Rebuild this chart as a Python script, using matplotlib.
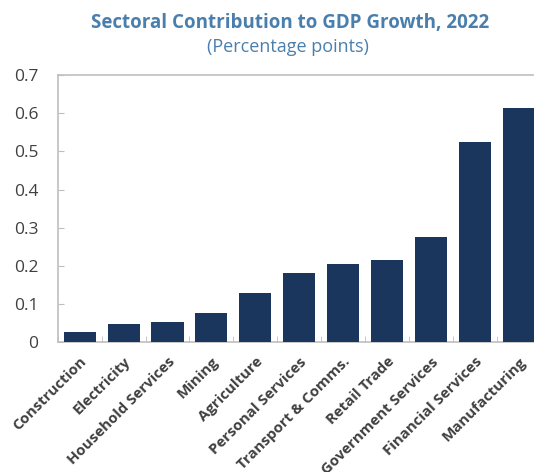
import matplotlib.pyplot as plt
import numpy as np

sectors = ['Construction', 'Electricity', 'Household Services', 'Mining', 'Agriculture',
           'Personal Services', 'Transport & Comms.', 'Retail Trade', 'Government Services',
           'Financial Services', 'Manufacturing']
contrib = [0.026, 0.047, 0.052, 0.076, 0.128, 0.181, 0.205, 0.215, 0.276, 0.525, 0.614]
yticks = [0, 0.1, 0.2, 0.3, 0.4, 0.5, 0.6, 0.7]
ylabels = ['0', '0.1', '0.2', '0.3', '0.4', '0.5', '0.6', '0.7']

plt.rcParams['font.family'] = ['Open Sans', 'DejaVu Sans']

fig = plt.figure(figsize=(5.34, 4.72), dpi=100)
ax = fig.add_axes([0.108, 0.275, 0.905, 0.566])

x = np.arange(len(sectors))
ax.bar(x, contrib, width=0.73, color='#1a365d', zorder=3)

ax.set_xlim(-0.5, len(sectors) - 0.5)
ax.set_ylim(0, 0.7)
ax.set_yticks(yticks)
ax.set_yticklabels(ylabels, fontsize=12.5, color='#404040')
ax.tick_params(axis='y', direction='in', length=4, color='#bfbfbf', pad=14)

# category boundary ticks on x axis
ax.set_xticks(x)
ax.set_xticklabels(sectors, rotation=45, ha='right', rotation_mode='anchor',
                   fontsize=10.8, fontweight='bold', color='#404040')
ax.tick_params(axis='x', length=0, pad=9)
ax.set_xticks(np.arange(len(sectors) + 1) - 0.5, minor=True)
ax.tick_params(axis='x', which='minor', direction='in', length=4, color='#bfbfbf')

for s in ['right']:
    ax.spines[s].set_visible(False)
for s in ['left', 'bottom', 'top']:
    ax.spines[s].set_color('#bfbfbf')
    ax.spines[s].set_linewidth(1.2)

fig.text(0.543, 0.952, 'Sectoral Contribution to GDP Growth, 2022', ha='center', va='center',
         fontsize=13.5, fontweight='bold', color='#4a7fad')
fig.text(0.54, 0.9, '(Percentage points)', ha='center', va='center',
         fontsize=13, color='#4a7fad')

fig.savefig('out.png', dpi=100)
